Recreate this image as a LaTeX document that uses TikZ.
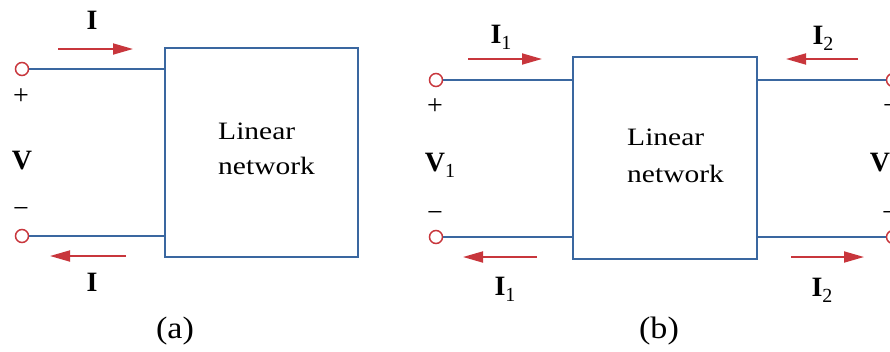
\documentclass[tikz,border=0pt]{standalone}
\usepackage{fontspec}
\setmainfont{Liberation Serif}
\usetikzlibrary{arrows.meta}
\definecolor{wireblue}{HTML}{3A67A0}
\definecolor{arrred}{HTML}{C8363C}
\newcommand{\curlab}[1]{\fontsize{28}{28}\selectfont\textbf{I}\raisebox{-0.22em}{\fontsize{20}{20}\selectfont #1}}
\newcommand{\vollab}[1]{\fontsize{28}{28}\selectfont\textbf{V}\raisebox{-0.22em}{\fontsize{20}{20}\selectfont #1}}
\tikzset{
  wire/.style={draw=wireblue, line width=1.6pt},
  netbox/.style={draw=wireblue, line width=1.6pt, inner sep=0pt},
  term/.style={circle, draw=arrred, fill=white, line width=1.5pt, minimum size=13pt, inner sep=0pt},
  curarrow/.style={draw=arrred, line width=1.8pt, -{Triangle[length=20pt,width=11pt]}},
  lbl/.style={inner sep=0pt, text=black},
  nettext/.style={inner sep=0pt, anchor=base west, xscale=1.18, font=\fontsize{25}{28}\selectfont},
  caption/.style={inner sep=0pt, xscale=1.1, font=\fontsize{31}{31}\selectfont},
  sign/.style={inner sep=0pt, font=\fontsize{28}{28}\selectfont}
}
\begin{document}
\begin{tikzpicture}[x=1pt, y=-1pt]
\useasboundingbox (0,0) rectangle (890,351);
\clip (0,0) rectangle (890,351);
% ---------- (a) ----------
\node[netbox, minimum width=193pt, minimum height=209pt] (boxa) at (261.5,152.5) {};
\node[nettext] (lina) at (218,139) {Linear};
\node[nettext] (neta) at (218,174) {network};
\node[term] (ta1) at (22,69) {};
\node[term] (ta2) at (22,236) {};
\draw[wire] (ta1.east) -- (boxa.west |- ta1);
\draw[wire] (ta2.east) -- (boxa.west |- ta2);
\node[sign] (pa) at (21,97) {+};
\node[lbl, font=\fontsize{28}{28}\selectfont\bfseries] (va) at (22,161) {V};
\node[sign] (ma) at (21,212) {−};
\coordinate (aa1s) at (58,49);
\coordinate (aa1e) at (133,49);
\draw[curarrow] (aa1s) -- (aa1e);
\node[lbl] (ia1) at (92,23) {\curlab{}};
\coordinate (aa2s) at (126,256);
\coordinate (aa2e) at (50,256);
\draw[curarrow] (aa2s) -- (aa2e);
\node[lbl] (ia2) at (92,285) {\curlab{}};
\node[caption] (capa) at (175,331) {(a)};
% ---------- (b) ----------
\node[netbox, minimum width=184pt, minimum height=202pt] (boxb) at (665,158) {};
\node[nettext] (linb) at (627,145) {Linear};
\node[nettext] (netb) at (627,182) {network};
\node[term] (tb1) at (436,80) {};
\node[term] (tb2) at (436,237) {};
\node[term] (tb3) at (893,80) {};
\node[term] (tb4) at (893,237) {};
\draw[wire] (tb1.east) -- (boxb.west |- tb1);
\draw[wire] (tb2.east) -- (boxb.west |- tb2);
\draw[wire] (boxb.east |- tb3) -- (tb3.west);
\draw[wire] (boxb.east |- tb4) -- (tb4.west);
\node[sign] (pb1) at (435,107) {+};
\node[lbl] (vb1) at (440,165) {\vollab{1}};
\node[sign] (mb1) at (435,216) {−};
\node[sign] (pb2) at (891,107) {+};
\node[lbl] (vb2) at (885,165) {\vollab{2}};
\node[sign] (mb2) at (890,216) {−};
\coordinate (ab1s) at (468,59);
\coordinate (ab1e) at (542,59);
\draw[curarrow] (ab1s) -- (ab1e);
\node[lbl] (ib1) at (501,37) {\curlab{1}};
\coordinate (ab2s) at (537,257);
\coordinate (ab2e) at (463,257);
\draw[curarrow] (ab2s) -- (ab2e);
\node[lbl] (ib2) at (505,289) {\curlab{1}};
\coordinate (ab3s) at (858,59);
\coordinate (ab3e) at (786,59);
\draw[curarrow] (ab3s) -- (ab3e);
\node[lbl] (ib3) at (823,38) {\curlab{2}};
\coordinate (ab4s) at (791,257);
\coordinate (ab4e) at (864,257);
\draw[curarrow] (ab4s) -- (ab4e);
\node[lbl] (ib4) at (822,290) {\curlab{2}};
\node[caption] (capb) at (659,331) {(b)};
\end{tikzpicture}
\end{document}
